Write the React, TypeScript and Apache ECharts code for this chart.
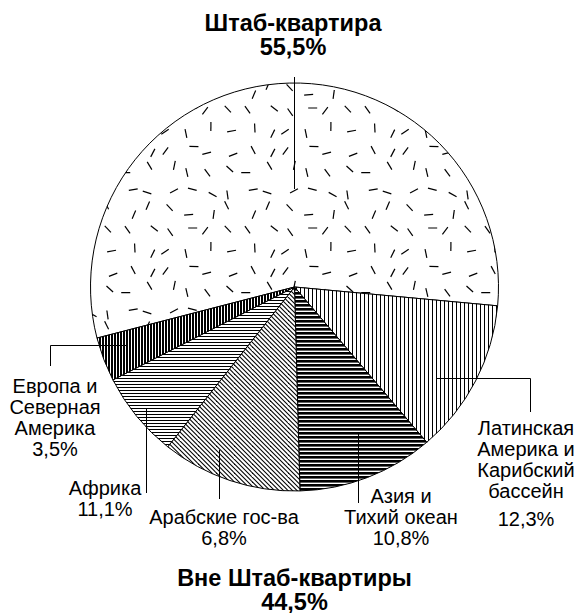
import React, { useEffect, useRef } from 'react';
import * as echarts from 'echarts';

// ---- data ----
const sliceNames = [
  'Штаб-квартира',
  'Латинская Америка и Карибский бассейн',
  'Азия и Тихий океан',
  'Африка',
  'Арабские гос-ва',
  'Европа и Северная Америка',
];
const sliceValues = [55.5, 12.3, 10.8, 11.1, 6.8, 3.5];
const insideTitle = 'Штаб-квартира';
const outsideTitle = 'Вне Штаб-квартиры';
const latinLines = ['Латинская', 'Америка и', 'Карибский', 'бассейн'];
const asiaLines = ['Азия и', 'Тихий океан'];
const arabLines = ['Арабские гос-ва'];
const africaLines = ['Африка'];
const europeLines = ['Европа и', 'Северная', 'Америка'];

const FONT = '"Liberation Sans", Arial, Helvetica, sans-serif';
const fmt = (v: number) => v.toFixed(1).replace('.', ',') + '%';
const valOf = (name: string) => sliceValues[sliceNames.indexOf(name)];

function mulberry32(a: number) {
  return function () {
    a |= 0; a = (a + 0x6d2b79f5) | 0;
    let t = Math.imul(a ^ (a >>> 15), 1 | a);
    t = (t + Math.imul(t ^ (t >>> 7), 61 | t)) ^ t;
    return ((t ^ (t >>> 14)) >>> 0) / 4294967296;
  };
}

function makePattern(w: number, h: number, draw: (ctx: CanvasRenderingContext2D) => void) {
  const c = document.createElement('canvas');
  c.width = w; c.height = h;
  const ctx = c.getContext('2d')!;
  ctx.fillStyle = '#fff';
  ctx.fillRect(0, 0, w, h);
  ctx.fillStyle = '#000';
  ctx.strokeStyle = '#000';
  draw(ctx);
  return { image: c.toDataURL(), repeat: 'repeat', imageWidth: w, imageHeight: h } as any;
}

function buildPatterns() {
  const dashes = makePattern(120, 120, (ctx) => {
    const rnd = mulberry32(12345);
    ctx.lineWidth = 1.2;
    for (let i = 0; i < 6; i++) {
      for (let j = 0; j < 6; j++) {
        const cx = i * 20 + 5 + rnd() * 10;
        const cy = j * 20 + 5 + rnd() * 10;
        const a = rnd() * Math.PI;
        const l = 4.5;
        ctx.beginPath();
        ctx.moveTo(cx - Math.cos(a) * l, cy - Math.sin(a) * l);
        ctx.lineTo(cx + Math.cos(a) * l, cy + Math.sin(a) * l);
        ctx.stroke();
      }
    }
  });
  const vertThin = makePattern(16, 16, (ctx) => {
    for (let x = 0; x < 16; x += 4) ctx.fillRect(x, 0, 1, 16);
  });
  const horizDark = makePattern(16, 16, (ctx) => {
    for (let y = 0; y < 16; y += 4) ctx.fillRect(0, y, 16, 2.6);
  });
  const diag = makePattern(18, 18, (ctx) => {
    ctx.lineWidth = 1.05;
    for (let c = -22.5; c <= 22.5; c += 4.5) {
      ctx.beginPath();
      ctx.moveTo(-2, -2 + c);
      ctx.lineTo(20, 20 + c);
      ctx.stroke();
    }
  });
  const horizThin = makePattern(15, 15, (ctx) => {
    for (let y = 0; y < 15; y += 3) ctx.fillRect(0, y, 15, 1);
  });
  const vertDark = makePattern(15, 15, (ctx) => {
    for (let x = 0; x < 15; x += 3) ctx.fillRect(x, 0, 2, 15);
  });
  return [dashes, vertThin, horizDark, diag, horizThin, vertDark];
}

function textEl(lines: string[], x: number, y: number, bold: boolean, size: number, lh: number) {
  return {
    type: 'text',
    z: 100,
    style: {
      text: lines.join('\n'),
      x,
      y,
      align: 'center',
      verticalAlign: 'middle',
      textAlign: 'center',
      textVerticalAlign: 'middle',
      font: `${bold ? 'bold ' : ''}${size}px ${FONT}`,
      lineHeight: lh,
      fill: '#000',
    },
  };
}

function lineEl(points: number[][]) {
  return {
    type: 'polyline',
    z: 100,
    shape: { points },
    style: { stroke: '#000', lineWidth: 1, fill: null },
  };
}

export default function App() {
  const ref = useRef<HTMLDivElement>(null);
  useEffect(() => {
    if (!ref.current) return;
    const chart = echarts.init(ref.current, null, { renderer: 'svg' });
    const patterns = buildPatterns();
    const outsideSum = sliceValues.slice(1).reduce((a, b) => a + b, 0);
    chart.setOption({
      animation: false,
      backgroundColor: '#fff',
      series: [
        {
          type: 'pie',
          center: [294.5, 287],
          radius: 204,
          startAngle: 194.5,
          clockwise: true,
          silent: true,
          label: { show: false },
          labelLine: { show: false },
          emphasis: { disabled: true },
          itemStyle: { borderColor: '#000', borderWidth: 1 },
          data: sliceNames.map((n, i) => ({
            name: n,
            value: sliceValues[i],
            itemStyle: { color: patterns[i] },
          })),
        },
      ],
      graphic: [
        textEl([insideTitle], 293, 22.5, true, 23.5, 22),
        textEl([fmt(sliceValues[0])], 293, 46.5, true, 23.5, 22),
        lineEl([[294.5, 77], [294.5, 189]]),
        textEl([outsideTitle], 294.5, 578, true, 23.5, 20),
        textEl([fmt(outsideSum)], 294.5, 601.5, true, 23.5, 20),
        // Europe
        lineEl([[126, 345.5], [50.5, 345.5], [50.5, 366]]),
        textEl([...europeLines, fmt(valOf('Европа и Северная Америка'))], 55, 417.5, false, 20, 21),
        // Africa label
        lineEl([[146.5, 408], [146.5, 493]]),
        textEl([...africaLines, fmt(valOf('Африка'))], 105, 498.5, false, 20, 21),
        // Arab label
        lineEl([[219.5, 450], [219.5, 499]]),
        textEl([...arabLines, fmt(valOf('Арабские гос-ва'))], 224, 527.5, false, 20, 21),
        // Asia
        lineEl([[358.5, 432], [358.5, 503]]),
        textEl([...asiaLines, fmt(valOf('Азия и Тихий океан'))], 401, 517, false, 20, 21),
        // Latin
        lineEl([[436, 378.5], [530.5, 378.5], [530.5, 412]]),
        textEl(latinLines, 526, 459.5, false, 20, 21),
        textEl([fmt(valOf('Латинская Америка и Карибский бассейн'))], 526, 519, false, 20, 21),
      ],
    } as any);
    return () => chart.dispose();
  }, []);
  return (
    <div
      ref={ref}
      style={{ position: 'absolute', left: 0, top: 0, width: 580, height: 613, background: '#fff' }}
    />
  );
}
